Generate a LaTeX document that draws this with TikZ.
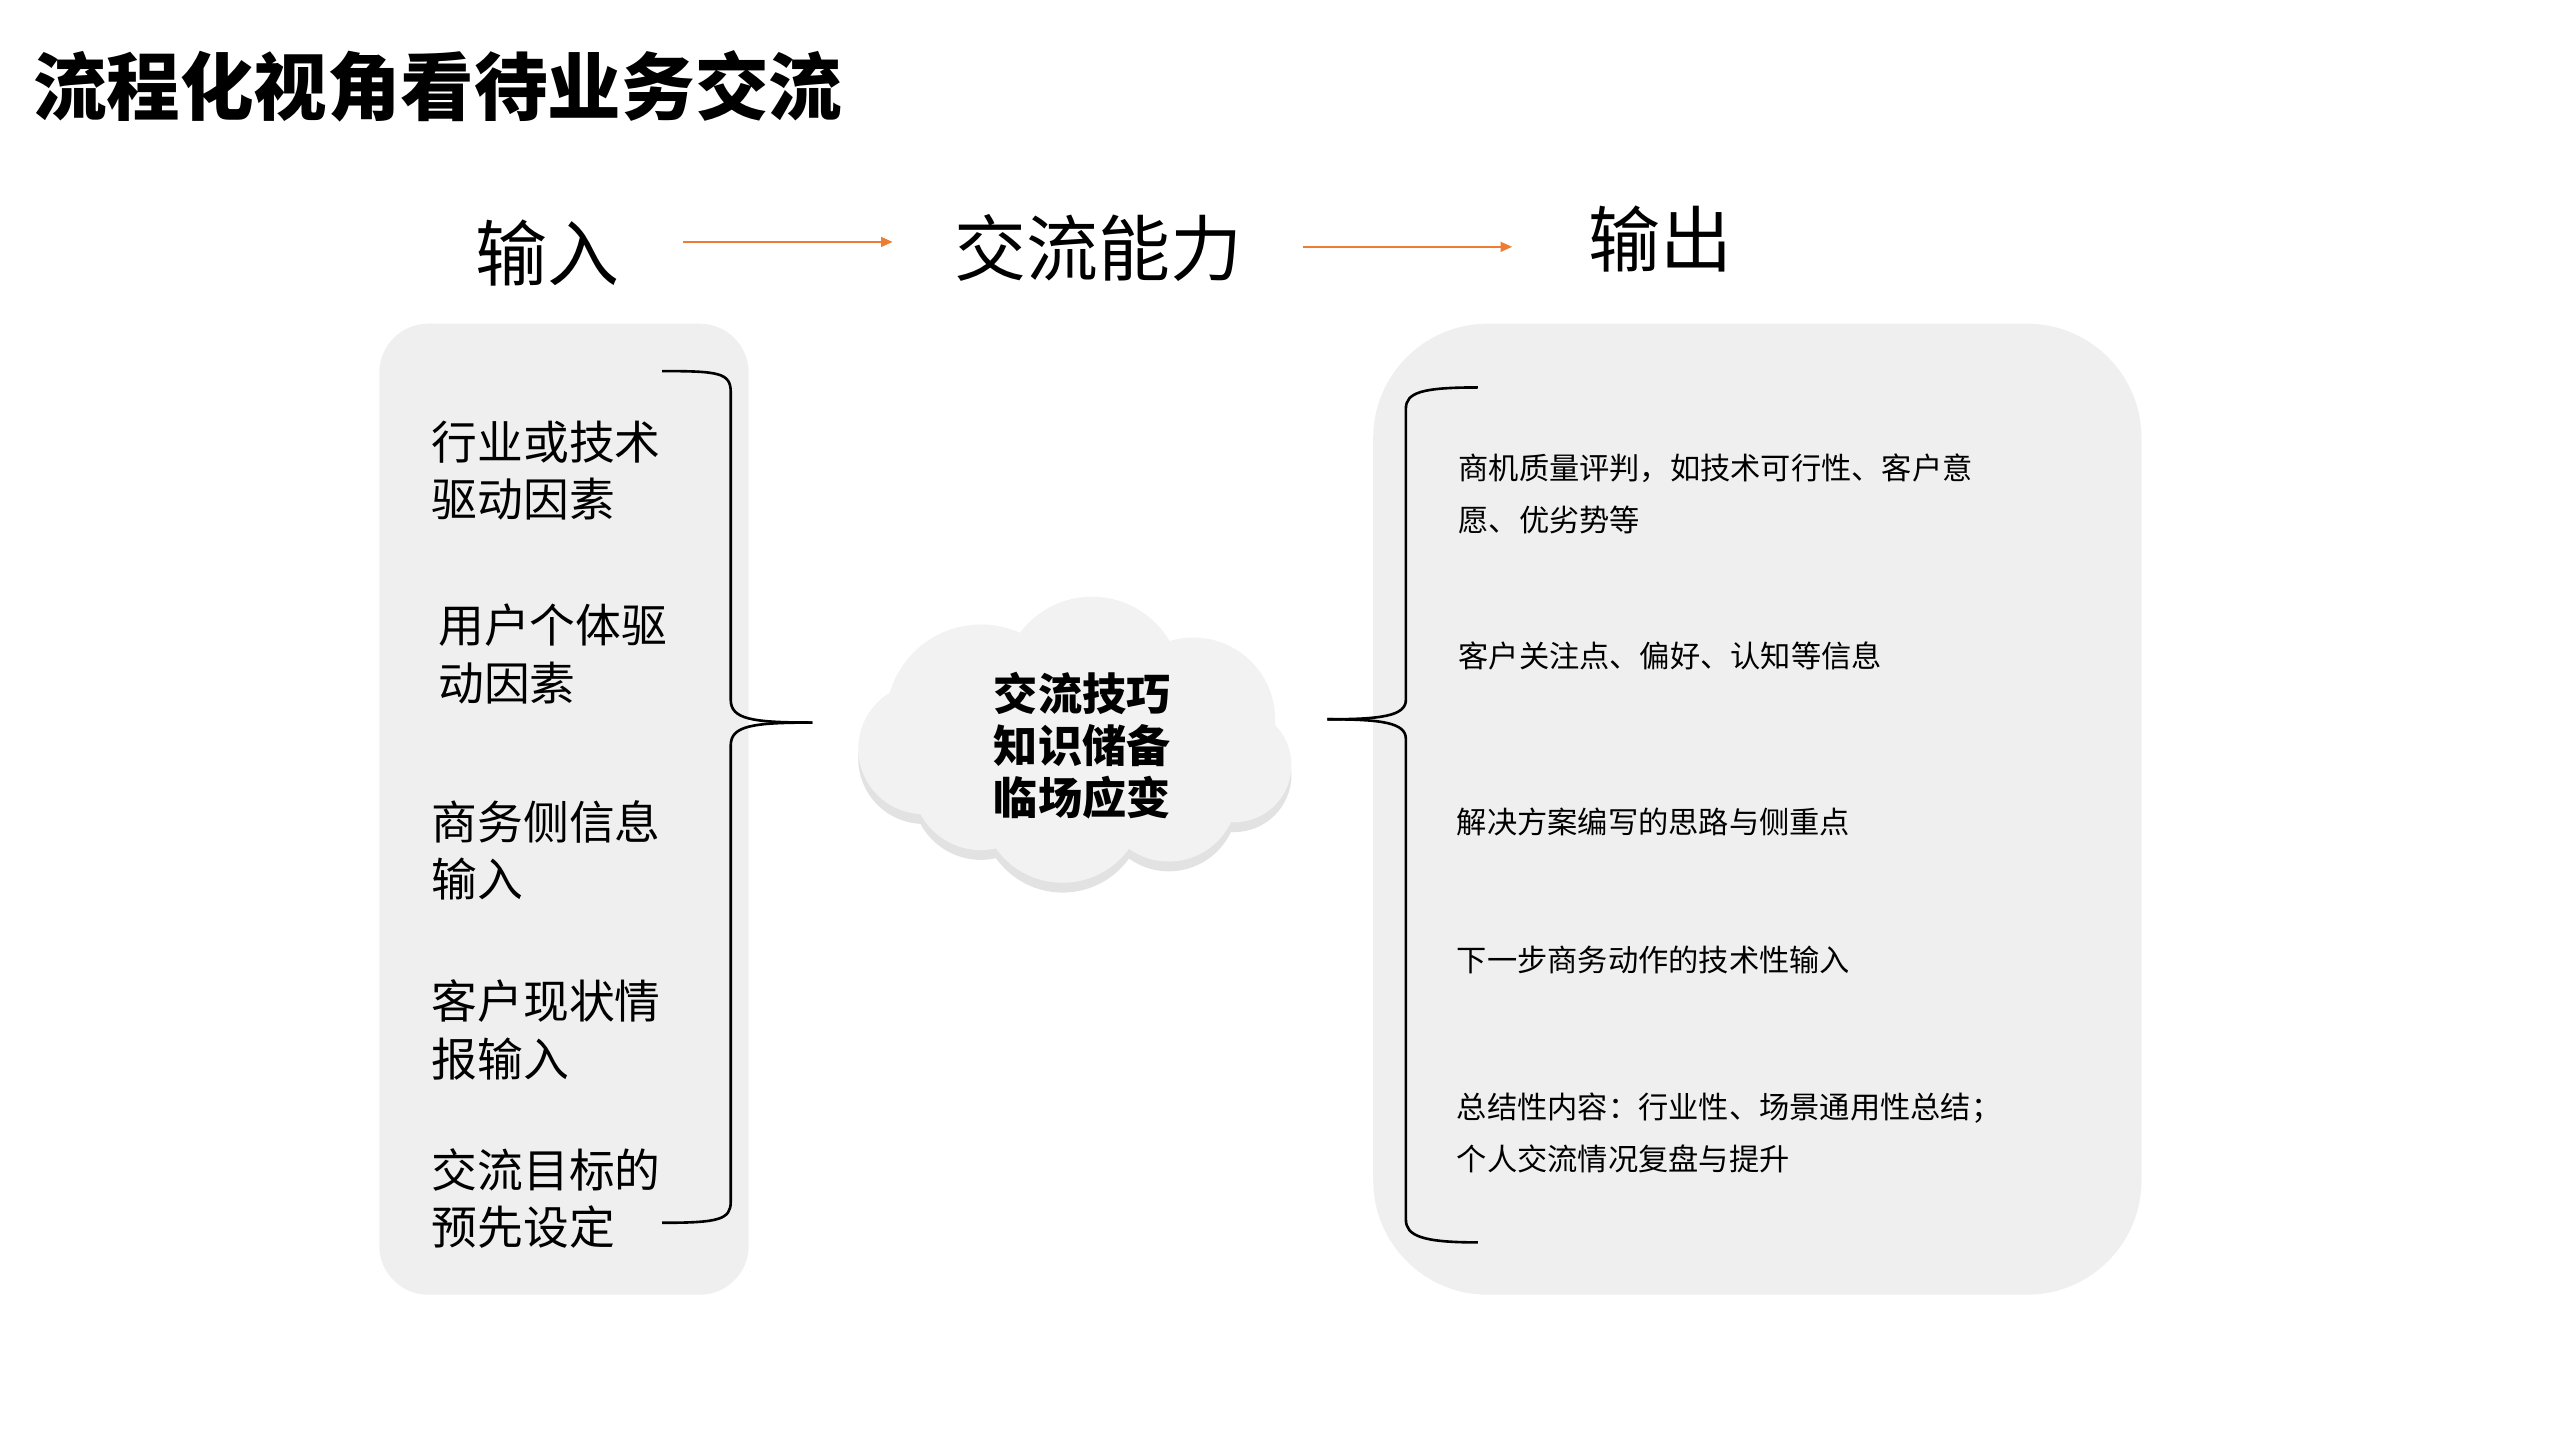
\documentclass[tikz,border=0pt]{standalone}
\usepackage{fontspec}
\setmainfont{Noto Sans CJK SC}
\usetikzlibrary{arrows.meta}
\definecolor{boxg}{HTML}{EFEFEF}
\definecolor{cl}{HTML}{F2F2F2}
\definecolor{cld}{HTML}{E2E2E2}
\definecolor{org}{HTML}{ED7D31}
\begin{document}
\begin{tikzpicture}[x=1pt,y=-1pt,
 lt/.style={anchor=west,align=left,font=\fontsize{28}{35}\selectfont,inner sep=0},
 rt/.style={anchor=west,align=left,font=\fontsize{18.5}{32}\selectfont,inner sep=0},
 hd/.style={font=\fontsize{44}{50}\selectfont},
 arr/.style={org,line width=1pt,-{Triangle[length=7pt,width=6pt]}},
 br/.style={line width=1.6pt,black}]
\useasboundingbox (0,0) rectangle (1566,881);
\node[anchor=west,font=\fontsize{45}{50}\selectfont\bfseries,inner sep=0] (title) at (20,53) {流程化视角看待业务交流};
\node[hd] (in) at (335,155) {输入};
\node[hd] (ab) at (672,152) {交流能力};
\node[hd] (out) at (1016,146) {输出};
\coordinate (a1s) at (418,148); \coordinate (a1e) at (546,148);
\coordinate (a2s) at (797,151); \coordinate (a2e) at (925,151);
\draw[arr] (a1s) -- (a1e);
\draw[arr] (a2s) -- (a2e);
\fill[boxg,rounded corners=30] (232,198) rectangle (458,792);
\fill[boxg,rounded corners=70] (840,198) rectangle (1310,792);
\draw[br] (405,227) .. controls (440,227) and (447,228) .. (447,240) -- (447,428) .. controls (447,440) and (460,442) .. (497,442);
\draw[br] (405,748) .. controls (440,748) and (447,746) .. (447,735) -- (447,456) .. controls (447,444) and (460,442) .. (497,442);
\draw[br] (904,237) .. controls (870,237) and (860,240) .. (860,250) -- (860,428) .. controls (860,438) and (845,440) .. (812,440);
\draw[br] (904,760) .. controls (870,760) and (860,756) .. (860,746) -- (860,452) .. controls (860,442) and (845,440) .. (812,440);
\begin{scope}[shift={(0,6)}]
\fill[cld] (668,420) circle (55) (600,440) circle (58) (730,440) circle (50) (565,458) circle (40) (755,468) circle (35) (650,490) circle (50) (600,478) circle (42) (715,485) circle (42);
\end{scope}
\fill[cl] (668,420) circle (55) (600,440) circle (58) (730,440) circle (50) (565,458) circle (40) (755,468) circle (35) (650,490) circle (50) (600,478) circle (42) (715,485) circle (42);
\node[font=\fontsize{27}{32}\selectfont\bfseries,align=center] (cloud) at (662,456) {交流技巧\\知识储备\\临场应变};
\node[lt] (l1) at (264,288) {行业或技术\\驱动因素};
\node[lt] (l2) at (268,400) {用户个体驱\\动因素};
\node[lt] (l3) at (264,520) {商务侧信息\\输入};
\node[lt] (l4) at (264,630) {客户现状情\\报输入};
\node[lt] (l5) at (264,733) {交流目标的\\预先设定};
\node[rt] (r1) at (892,302) {商机质量评判，如技术可行性、客户意\\愿、优劣势等};
\node[rt] (r2) at (892,401) {客户关注点、偏好、认知等信息};
\node[rt] (r3) at (891,503) {解决方案编写的思路与侧重点};
\node[rt] (r4) at (891,587) {下一步商务动作的技术性输入};
\node[rt] (r5) at (891,693) {总结性内容：行业性、场景通用性总结；\\个人交流情况复盘与提升};
\end{tikzpicture}
\end{document}
